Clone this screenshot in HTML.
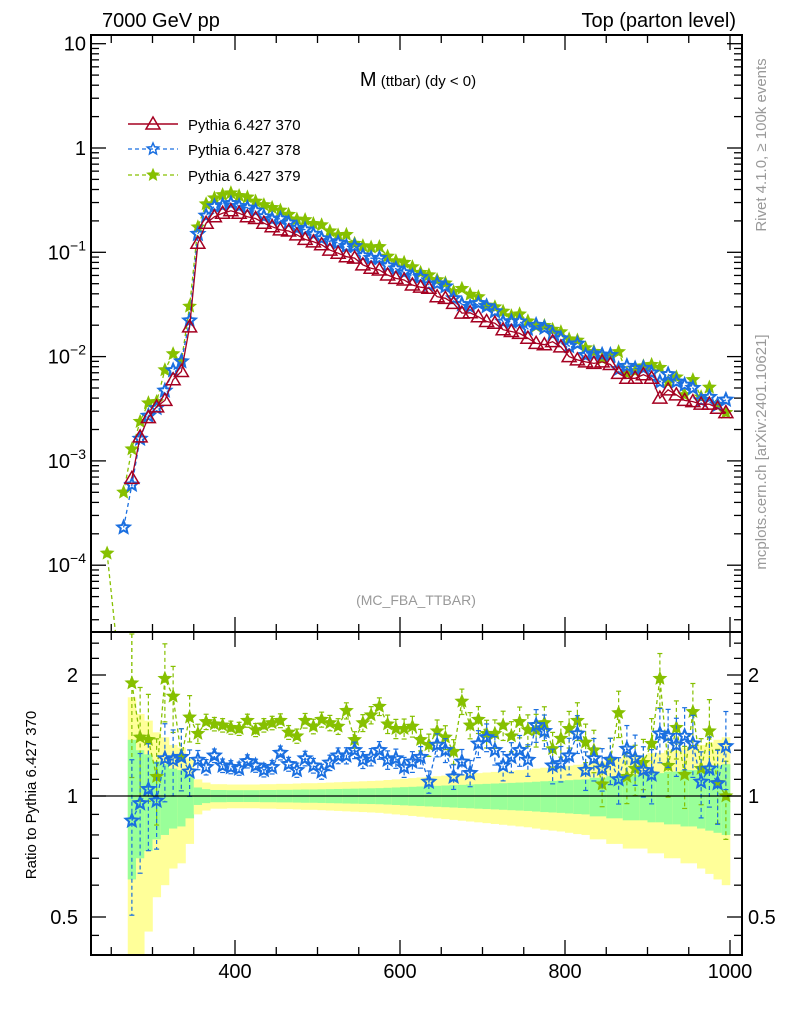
<!DOCTYPE html>
<html><head><meta charset="utf-8"><style>
html,body{margin:0;padding:0;background:#fff;}
svg{display:block;font-family:"Liberation Sans",Arial,sans-serif;}
</style></head><body>
<svg id="chart" width="786" height="1024" viewBox="0 0 786 1024" xmlns="http://www.w3.org/2000/svg">
<rect x="0" y="0" width="786" height="1024" fill="#fff"/>
<g id="ratioBands"></g>
<g id="mainMarks"></g>
<g id="ratioMarks"></g>
<g id="axes"></g>
<text x="102" y="27" font-size="20">7000 GeV pp</text>
<text x="736" y="27" font-size="20" text-anchor="end">Top (parton level)</text>
<text x="418" y="86" text-anchor="middle"><tspan font-size="20">M</tspan><tspan font-size="15"> (ttbar) (dy &lt; 0)</tspan></text>
<text x="416" y="605" font-size="14" fill="#999" text-anchor="middle">(MC_FBA_TTBAR)</text>
<text transform="translate(766,145) rotate(-90)" font-size="15" fill="#999" text-anchor="middle">Rivet 4.1.0, ≥ 100k events</text>
<text transform="translate(766,452) rotate(-90)" font-size="15" fill="#999" text-anchor="middle">mcplots.cern.ch [arXiv:2401.10621]</text>
<text transform="translate(36,795) rotate(-90)" font-size="15" text-anchor="middle">Ratio to Pythia 6.427 370</text>
<g>
  <g>
    <line x1="128" y1="124" x2="178" y2="124" stroke="#a50021" stroke-width="1.5"/>
    <polygon points="153,117 160,129 146,129" fill="none" stroke="#a50021" stroke-width="1.5"/>
    <text x="188" y="130" font-size="15">Pythia 6.427 370</text>
  </g>
  <g>
    <line x1="128" y1="149" x2="178" y2="149" stroke="#1a6fe0" stroke-width="1.3" stroke-dasharray="4,3"/>
    <text x="188" y="155" font-size="15">Pythia 6.427 378</text>
  </g>
  <g>
    <line x1="128" y1="175" x2="178" y2="175" stroke="#86c000" stroke-width="1.3" stroke-dasharray="4,3"/>
    <text x="188" y="181" font-size="15">Pythia 6.427 379</text>
  </g>
</g>
<g id="legendStars"></g>
</svg>
<script>
const bins = [275,285,295,305,315,325,335,345,355,365,375,385,395,405,415,425,435,445,455,465,475,485,495,505,515,525,535,545,555,565,575,585,595,605,615,625,635,645,655,665,675,685,695,705,715,725,735,745,755,765,775,785,795,805,815,825,835,845,855,865,875,885,895,905,915,925,935,945,955,965,975,985,995];
const red370 = [6.8e-4,1.7e-3,2.6e-3,3.3e-3,3.8e-3,6.0e-3,7.2e-3,0.0193,0.122,0.190,
0.219,0.237,0.250,0.237,0.219,0.211,0.190,0.176,0.164,0.160,
0.147,0.133,0.126,0.118,0.105,0.098,0.0907,0.088,0.0757,0.0703,
0.0676,0.0606,0.0562,0.0543,0.0486,0.0463,0.0452,0.0375,0.0362,0.0324,
0.0261,0.0263,0.0241,0.0217,0.0209,0.0181,0.0174,0.0167,0.0150,0.0134,
0.0130,0.0139,0.0124,0.0100,0.0093,0.0089,0.0086,0.0089,0.0084,0.0069,
0.0062,0.0062,0.0067,0.0062,0.0040,0.0048,0.0043,0.0038,0.0037,0.0035,
0.0035,0.0032,0.0029];
const ratio378 = [0.868,0.959,1.04,0.973,1.24,1.23,1.25,1.15,1.23,1.18,1.26,1.19,1.18,1.17,1.22,1.19,1.16,1.18,1.28,1.20,1.16,1.24,1.19,1.15,1.21,1.26,1.26,1.30,1.23,1.25,1.30,1.23,1.24,1.18,
1.217,1.25,1.085,1.34,1.30,1.117,1.217,1.14,1.35,1.40,1.30,1.19,1.25,1.30,1.23,1.50,1.45,1.19,1.206,1.26,1.43,1.16,1.24,1.17,1.23,1.10,1.31,1.24,1.16,1.13,1.43,1.41,1.34,1.41,1.35,1.085,1.17,1.075,1.33];
const ratio379 = [1.91,1.40,1.38,1.117,1.96,1.77,1.25,1.57,1.43,1.53,1.51,1.50,1.48,1.47,1.54,1.46,1.50,1.52,1.54,1.44,1.41,1.54,1.49,1.55,1.52,1.49,1.63,1.38,1.52,1.59,1.67,1.51,1.47,1.47,
1.49,1.38,1.34,1.45,1.40,1.29,1.72,1.50,1.55,1.43,1.43,1.50,1.41,1.53,1.46,1.46,1.52,1.31,1.39,1.47,1.54,1.36,1.30,1.07,1.23,1.61,1.117,1.17,1.21,1.35,1.96,1.19,1.48,1.13,1.62,1.17,1.45,1.08,1.00];
const relErr = [0.38,0.30,0.27,0.22,0.20,0.17,0.16,0.12,0.05,0.04,
0.035,0.035,0.034,0.034,0.034,0.034,0.035,0.035,0.036,0.036,
0.037,0.038,0.038,0.039,0.040,0.041,0.042,0.043,0.044,0.045,
0.046,0.048,0.050,0.052,0.054,0.056,0.058,0.060,0.062,0.064,
0.066,0.068,0.070,0.072,0.074,0.076,0.078,0.080,0.082,0.085,
0.088,0.090,0.092,0.095,0.098,0.10,0.11,0.11,0.12,0.12,
0.13,0.13,0.13,0.14,0.14,0.15,0.15,0.16,0.16,0.17,
0.18,0.19,0.20];
const lowBins378 = [265];
const lowVals378 = [2.3e-4];
const lowBins379 = [245,265];
const lowVals379 = [1.3e-4,5e-4];
const xTickLabels = [400,600,800,1000];
const yMainLabels = [1,0,-1,-2,-3,-4];
const yRatioLabels = ["2","1","0.5"];
const yRatioValues = [2,1,0.5];

const NS="http://www.w3.org/2000/svg";
const X0=235, XS=0.825, L=91, R=742, T=35, MB=632, RB=955;
const xs=v=>X0+(v-400)*XS;
const ym=v=>148-104.3*Math.log10(v);
const yr=r=>796-121*Math.log2(r);
const RED="#a50021", BLUE="#1a6fe0", GREEN="#86c000";
function mk(tag,attrs,parent){const e=document.createElementNS(NS,tag);for(const k in attrs)e.setAttribute(k,attrs[k]);parent.appendChild(e);return e;}
function starPts(cx,cy,r){let p=[];for(let i=0;i<10;i++){const a=-Math.PI/2+i*Math.PI/5;const rr=i%2?r*0.45:r;p.push((cx+rr*Math.cos(a)).toFixed(1)+","+(cy+rr*Math.sin(a)).toFixed(1));}return p.join(" ");}
const clampM=y=>Math.max(T,Math.min(MB,y));
const clampR=y=>Math.max(634,Math.min(RB,y));

// legend stars
const ls=document.getElementById('legendStars');
let s1=mk('polygon',{points:starPts(153,149,6),fill:'none',stroke:BLUE,'stroke-width':1.5},ls);


let s2=mk('polygon',{points:starPts(153,175,6),fill:GREEN,stroke:GREEN,'stroke-width':1},ls);



// ratio bands
const rb=document.getElementById('ratioBands');
bins.forEach((b,i)=>{
  const x1=xs(b-5), x2=xs(b+5), e=relErr[i];
  const yu=clampR(yr(1+2*e)), yl=clampR(yr(Math.max(0.05,1-2*e)));
  let r1=mk('rect',{x:x1,y:yu,width:x2-x1+0.3,height:yl-yu,fill:'#ffff99'},rb);
  
  
  const gu=clampR(yr(1+e)), gl=clampR(yr(1-e));
  let r2=mk('rect',{x:x1,y:gu,width:x2-x1+0.3,height:gl-gu,fill:'#99ff99'},rb);
  
  
});

// main series
const mm=document.getElementById('mainMarks');
function series(xv,yv,color,dash,name,marker){
  const g=mk('g',{},mm);
  
  
  const pts=xv.map((b,i)=>xs(b).toFixed(1)+","+clampM(ym(yv[i])).toFixed(1)).join(" ");
  mk('polyline',{points:pts,fill:'none',stroke:color,'stroke-width':1.3,'stroke-dasharray':dash||'none'},g);
  xv.forEach((b,i)=>{
    const cx=xs(b), cy=ym(yv[i]);
    if(cy>MB||cy<T) return;
    let m;
    if(marker==='tri'){m=mk('polygon',{points:`${cx},${cy-7} ${cx+7},${cy+5} ${cx-7},${cy+5}`,fill:'none',stroke:color,'stroke-width':1.5},g);}
    else if(marker==='ostar'){m=mk('polygon',{points:starPts(cx,cy,6.5),fill:'none',stroke:color,'stroke-width':2},g);}
    else {m=mk('polygon',{points:starPts(cx,cy,6.5),fill:color,stroke:color,'stroke-width':1},g);}
    
    
  });
}
const v379=bins.map((b,i)=>red370[i]*ratio379[i]);
const v378=bins.map((b,i)=>red370[i]*ratio378[i]);
// green low-mass tail (255 bin drops off the axis)
series([245,255],[lowVals379[0],1e-6],GREEN,'4,3','series-379-tail','fstar');
series(lowBins379.slice(1).concat(bins),lowVals379.slice(1).concat(v379),GREEN,'4,3','series-379','fstar');
series(lowBins378.concat(bins),lowVals378.concat(v378),BLUE,'4,3','series-378','ostar');
series(bins,red370,RED,null,'series-370','tri');

// ratio series
const rm=document.getElementById('ratioMarks');
function rseries(vals,color,name,filled){
  const g=mk('g',{},rm);
  
  
  const pts=bins.map((b,i)=>xs(b).toFixed(1)+","+clampR(yr(vals[i])).toFixed(1)).join(" ");
  mk('polyline',{points:pts,fill:'none',stroke:color,'stroke-width':1.3,'stroke-dasharray':'4,3'},g);
  bins.forEach((b,i)=>{
    const cx=xs(b), r=vals[i], e=relErr[i]*1.1*r;
    const y1=clampR(yr(r+e)), y2=clampR(yr(Math.max(0.05,r-e)));
    mk('line',{x1:cx,y1:y1,x2:cx,y2:y2,stroke:color,'stroke-width':1.2,'stroke-dasharray':'4,3'},g);
    mk('line',{x1:cx-2.5,y1:y1,x2:cx+2.5,y2:y1,stroke:color,'stroke-width':1.2},g);
    mk('line',{x1:cx-2.5,y1:y2,x2:cx+2.5,y2:y2,stroke:color,'stroke-width':1.2},g);
    const m=mk('polygon',{points:starPts(cx,yr(r),6.5),fill:filled?color:'none',stroke:color,'stroke-width':filled?1:2},g);
    
    
  });
}
rseries(ratio379,GREEN,'ratio-379',true);
rseries(ratio378,BLUE,'ratio-378',false);
// green first point goes off top
mk('line',{x1:xs(275),y1:634,x2:xs(275),y2:yr(1.91),stroke:GREEN,'stroke-width':1.2,'stroke-dasharray':'4,3'},rm);
const ref=mk('line',{x1:L,y1:yr(1),x2:R,y2:yr(1),stroke:'#000','stroke-width':1.3},rm);



// axes
const ax=document.getElementById('axes');
const f1=mk('rect',{x:L,y:T,width:R-L,height:MB-T,fill:'none',stroke:'#000','stroke-width':2},ax);


const f2=mk('rect',{x:L,y:MB,width:R-L,height:RB-MB,fill:'none',stroke:'#000','stroke-width':2},ax);


function tick(x1,y1,x2,y2){mk('line',{x1,y1,x2,y2,stroke:'#000','stroke-width':1.3},ax);}
// x ticks
for(let v=250;v<=1000;v+=50){
  const x=xs(v); if(x<L||x>R) continue;
  const len=(v%200===0)?15:8;
  [[T,1],[MB,-1],[MB,1],[RB,-1]].forEach(([y,d])=>tick(x,y,x,y+d*len));
}
xTickLabels.forEach(v=>{
  const t=mk('text',{x:xs(v),y:978,'font-size':20,'text-anchor':'middle'},ax);
  t.textContent=v;
  
  
});
// main y ticks
for(let d=-5;d<=1;d++){
  for(let k=1;k<=9;k++){
    const y=ym(k*Math.pow(10,d)); if(y<T||y>MB) continue;
    const len=k===1?15:8;
    tick(L,y,L+len,y); tick(R,y,R-len,y);
  }
}
yMainLabels.forEach(d=>{
  const t=mk('text',{x:86,y:ym(Math.pow(10,d))+7,'font-size':20,'text-anchor':'end'},ax);
  
  
  if(d===0){t.textContent='1';}
  else if(d===1){t.textContent='10';}
  else{
    const a=mk('tspan',{},t);a.textContent='10';
    const b=mk('tspan',{dy:-9,'font-size':14},t);b.textContent='−'+(-d);
  }
});
// ratio y ticks
[0.45,0.5,0.6,0.7,0.8,0.9,1,1.1,1.2,1.3,1.4,1.5,1.6,1.7,1.8,1.9,2,2.2,2.4].forEach(r=>{
  const y=yr(r); if(y<634||y>RB) return;
  const len=(r===0.5||r===1||r===2)?15:8;
  tick(L,y,L+len,y); tick(R,y,R-len,y);
});
yRatioLabels.forEach((lab,i)=>{
  const y=yr(yRatioValues[i])+7;
  const t=mk('text',{x:78,y:y,'font-size':20,'text-anchor':'end'},ax);
  t.textContent=lab;
  
  
  const t2=mk('text',{x:748,y:y,'font-size':20},ax);
  t2.textContent=lab;
  
  
});
</script>
</body></html>
